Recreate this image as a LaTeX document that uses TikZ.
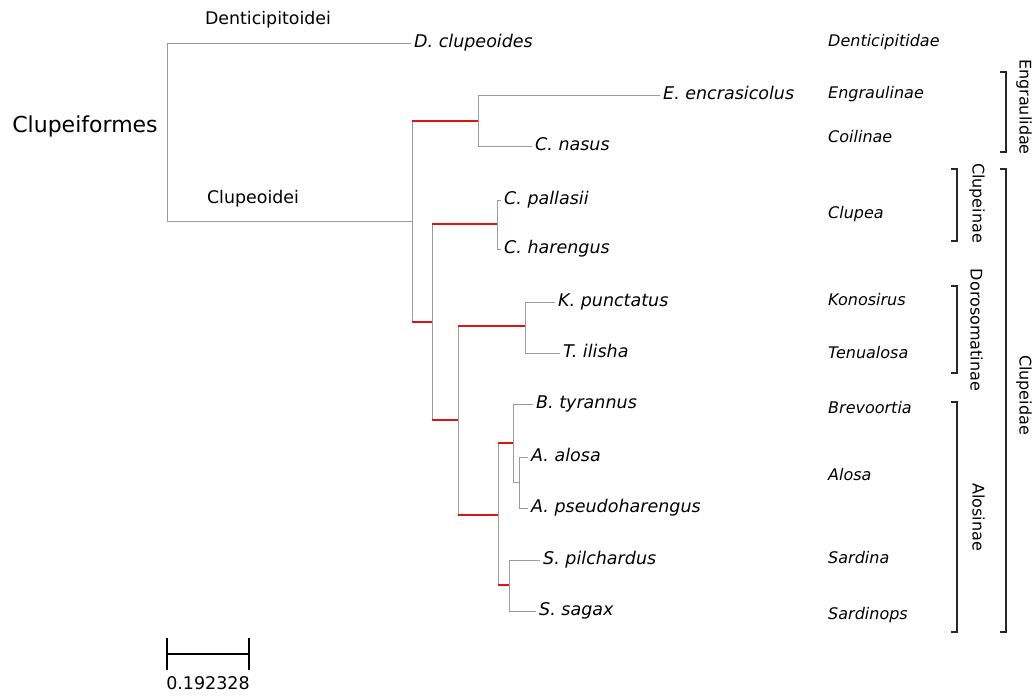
\documentclass[tikz,border=0pt]{standalone}
\usepackage{fontspec}
\setmainfont{DejaVu Sans}
\definecolor{branchgray}{RGB}{155,155,155}
\definecolor{stemred}{RGB}{222,20,20}
\definecolor{brackgray}{RGB}{40,40,40}
\begin{document}
\begin{tikzpicture}[x=1pt,y=-1pt,
    branch/.style={draw=branchgray,line width=1pt},
    hot/.style={draw=stemred,line width=2pt},
    species/.style={anchor=west,inner sep=3pt,font=\fontsize{17.5}{20}\selectfont\itshape,text height=1.21em,text depth=0.25em},
    taxon/.style={anchor=west,inner sep=0pt,font=\fontsize{16}{19}\selectfont\itshape,text height=1.0em,text depth=0.25em},
    clade/.style={inner sep=0pt,font=\fontsize{17.4}{20}\selectfont,text height=1.21em,text depth=0.25em},
    grouplab/.style={rotate=-90,inner sep=0pt,font=\fontsize{16}{19}\selectfont,text height=0.75em,text depth=0.25em},
    brack/.style={draw=brackgray,line width=1.2pt}]
  \useasboundingbox (0,0) rectangle (1035,699);
  % internal nodes
  \coordinate (root) at (167,132);
  \coordinate (clupeoidei) at (412,221);
  \coordinate (engr) at (478,121);
  \coordinate (clupeidae) at (432,322);
  \coordinate (clupea) at (497,224);
  \coordinate (dorosalo) at (458,420);
  \coordinate (doro) at (525,326);
  \coordinate (alosinae) at (498,515);
  \coordinate (brevalosa) at (513,443);
  \coordinate (alosa) at (519,482);
  \coordinate (sard) at (509,585);
  % tips
  \node[species] (dclu) at (411,43) {D. clupeoides};
  \node[species] (eenc) at (660,95) {E. encrasicolus};
  \node[species] (cnas) at (532,146) {C. nasus};
  \node[species] (cpal) at (501,200) {C. pallasii};
  \node[species] (char) at (501,249) {C. harengus};
  \node[species] (kpun) at (555,302) {K. punctatus};
  \node[species] (tili) at (560,353) {T. ilisha};
  \node[species] (btyr) at (533,404) {B. tyrannus};
  \node[species] (aalo) at (528,457) {A. alosa};
  \node[species] (apse) at (528,508) {A. pseudoharengus};
  \node[species] (spil) at (540,560) {S. pilchardus};
  \node[species] (ssag) at (536,611) {S. sagax};
  % branches to tips
  \foreach \p/\c in {root/dclu,engr/eenc,engr/cnas,clupea/cpal,clupea/char,
      doro/kpun,doro/tili,brevalosa/btyr,alosa/aalo,alosa/apse,sard/spil,sard/ssag}
    \draw[branch] (\p) -- (\p |- \c.west) -- (\c.west);
  % branches to inner nodes
  \draw[branch] (root) -- (root |- clupeoidei) -- (clupeoidei);
  \draw[branch] (brevalosa) -- (brevalosa |- alosa) -- (alosa);
  \foreach \p/\c in {clupeoidei/engr,clupeoidei/clupeidae,clupeidae/clupea,clupeidae/dorosalo,
      dorosalo/doro,dorosalo/alosinae,alosinae/brevalosa,alosinae/sard}
    {\draw[branch] (\p) -- (\p |- \c);
     \draw[hot] (\p |- \c) -- (\c);}
  % clade names
  \node[clade] (cform) at (85,128) {\fontsize{22}{26}\selectfont Clupeiformes};
  \node[clade] (dentoid) at (268,20) {Denticipitoidei};
  \node[clade] (clupoid) at (253,199) {Clupeoidei};
  % families, subfamilies, genera
  \node[taxon] (tden) at (828,43) {Denticipitidae};
  \node[taxon] (teng) at (828,95) {Engraulinae};
  \node[taxon] (tcoi) at (828,139) {Coilinae};
  \node[taxon] (tclu) at (828,215) {Clupea};
  \node[taxon] (tkon) at (828,302) {Konosirus};
  \node[taxon] (tten) at (828,355) {Tenualosa};
  \node[taxon] (tbre) at (828,410) {Brevoortia};
  \node[taxon] (talo) at (828,477) {Alosa};
  \node[taxon] (tsar) at (828,560) {Sardina};
  \node[taxon] (tsps) at (828,616) {Sardinops};
  % brackets
  \draw[brack] (1000,72) -- (1006,72) -- (1006,152) -- (1000,152);
  \draw[brack] (1000,169) -- (1006,169) -- (1006,632) -- (1000,632);
  \draw[brack] (951,169) -- (957,169) -- (957,241) -- (951,241);
  \draw[brack] (951,286) -- (957,286) -- (957,373) -- (951,373);
  \draw[brack] (951,402) -- (957,402) -- (957,632) -- (951,632);
  \node[grouplab] (gengr) at (1022,107) {Engraulidae};
  \node[grouplab] (gclid) at (1022,395) {Clupeidae};
  \node[grouplab] (gclin) at (975,203) {Clupeinae};
  \node[grouplab] (gdoro) at (973,330) {Dorosomatinae};
  \node[grouplab] (galos) at (975,517) {Alosinae};
  % scale bar
  \draw[line width=2pt] (167,654) -- (249,654);
  \draw[line width=1.4pt] (167,638) -- (167,670) (249,638) -- (249,670);
  \node[clade,font=\fontsize{17.5}{20}\selectfont] (scalelab) at (208,685) {0.192328};
\end{tikzpicture}
\end{document}
